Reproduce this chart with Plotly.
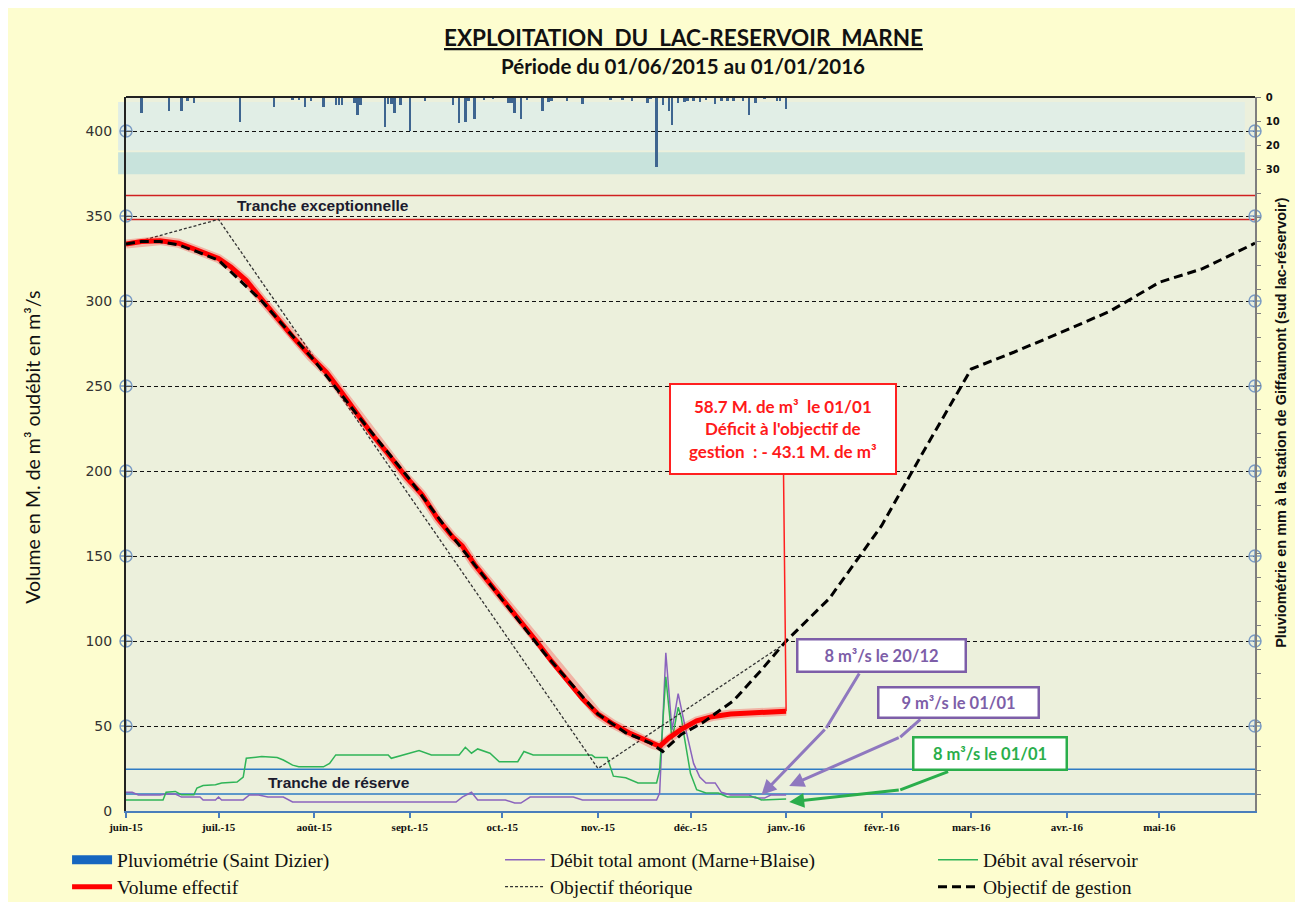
import plotly.graph_objects as go

# ---------------- data ----------------
month_ticks = ["2015-06-01", "2015-07-01", "2015-08-01", "2015-09-01", "2015-10-01", "2015-11-01",
               "2015-12-01", "2016-01-01", "2016-02-01", "2016-03-01", "2016-04-01", "2016-05-01"]
month_labels = ["juin-15", "juil.-15", "août-15", "sept.-15", "oct.-15", "nov.-15",
                "déc.-15", "janv.-16", "févr.-16", "mars-16", "avr.-16", "mai-16"]

rain_dates = ["2015-06-06", "2015-06-15", "2015-06-19", "2015-06-21", "2015-06-23", "2015-07-08",
              "2015-07-19", "2015-07-25", "2015-07-27", "2015-07-29", "2015-07-31", "2015-08-04",
              "2015-08-08", "2015-08-09", "2015-08-10", "2015-08-14", "2015-08-15", "2015-08-16",
              "2015-08-24", "2015-08-25", "2015-08-26", "2015-08-27", "2015-08-29", "2015-09-01",
              "2015-09-06", "2015-09-15", "2015-09-17", "2015-09-19", "2015-09-20", "2015-09-22",
              "2015-09-25", "2015-09-28", "2015-10-03", "2015-10-04", "2015-10-05", "2015-10-07",
              "2015-10-09", "2015-10-14", "2015-10-16", "2015-10-17", "2015-10-22", "2015-10-27",
              "2015-11-05", "2015-11-09", "2015-11-12", "2015-11-17", "2015-11-18", "2015-11-20",
              "2015-11-22", "2015-11-24", "2015-11-25", "2015-11-27", "2015-11-29", "2015-11-30",
              "2015-12-02", "2015-12-04", "2015-12-06", "2015-12-09", "2015-12-11", "2015-12-13",
              "2015-12-15", "2015-12-18", "2015-12-20", "2015-12-22", "2015-12-25", "2015-12-29",
              "2015-12-30", "2016-01-01"]
rain_mm = [6.5, 6, 6, 1.5, 2.5, 10.5,
           4, 1.2, 1.2, 4, 1.5, 4,
           3.5, 3.5, 3.5, 2.5, 7.5, 3.5,
           12.5, 3, 3, 6.5, 3.5, 14,
           1.5, 3.5, 11, 10.5, 1.5, 9,
           1.3, 1, 2.5, 2.5, 6.5, 9,
           1.2, 6, 2, 1.8, 1.5, 3,
           1.2, 1.2, 1.8, 2.5, 1, 29,
           3.5, 6, 11.5, 2.5, 2, 1.5,
           1.5, 2, 1.2, 3, 1.5, 1.5,
           1.5, 1.5, 7.5, 2.5, 1, 1.5,
           1.5, 5]

amont_dates = ["2015-06-01", "2015-06-03", "2015-06-05", "2015-06-12", "2015-06-14", "2015-06-17",
               "2015-06-19", "2015-06-25", "2015-06-26", "2015-06-30", "2015-07-01", "2015-07-02",
               "2015-07-09", "2015-07-11", "2015-07-14", "2015-07-17", "2015-07-22", "2015-07-25",
               "2015-09-16", "2015-09-18", "2015-09-21", "2015-09-23", "2015-10-02", "2015-10-05",
               "2015-10-07", "2015-10-10", "2015-10-24", "2015-10-27", "2015-11-20", "2015-11-21",
               "2015-11-23", "2015-11-25", "2015-11-27", "2015-11-29", "2015-12-02", "2015-12-04",
               "2015-12-06", "2015-12-09", "2015-12-11", "2015-12-14", "2015-12-20", "2015-12-22",
               "2015-12-25", "2015-12-27", "2016-01-01"]
amont_val = [11, 11, 9.4, 9.4, 10, 10,
             8.2, 8.2, 6.5, 6.5, 8.2, 6.5,
             6.5, 9.4, 9.4, 8.2, 8.2, 5.3,
             5.3, 8.2, 11, 6.5, 6.5, 4.7,
             4.7, 8.2, 8.2, 6.5, 6.5, 10.6,
             93, 47.6, 69, 51.7, 28, 20,
             16.5, 16.5, 11, 9.4, 9.4, 7.6,
             7.6, 9.4, 9.4]

aval_dates = ["2015-06-01", "2015-06-13", "2015-06-14", "2015-06-17", "2015-06-19", "2015-06-23",
              "2015-06-24", "2015-06-26", "2015-06-30", "2015-07-02", "2015-07-07", "2015-07-09",
              "2015-07-10", "2015-07-15", "2015-07-20", "2015-07-22", "2015-07-25", "2015-07-27",
              "2015-08-04", "2015-08-06", "2015-08-08", "2015-08-25", "2015-08-26", "2015-08-30",
              "2015-09-04", "2015-09-08", "2015-09-17", "2015-09-19", "2015-09-21", "2015-09-23",
              "2015-09-27", "2015-09-30", "2015-10-06", "2015-10-08", "2015-10-11", "2015-10-30",
              "2015-10-31", "2015-11-04", "2015-11-06", "2015-11-10", "2015-11-14", "2015-11-20",
              "2015-11-21", "2015-11-23", "2015-11-25", "2015-11-27", "2015-11-28", "2015-11-29",
              "2015-12-01", "2015-12-03", "2015-12-06", "2015-12-10", "2015-12-13", "2015-12-22",
              "2015-12-24", "2016-01-01"]
aval_val = [6.5, 6.5, 11, 11.5, 9.5, 9.5,
            13.5, 15, 15.5, 16.5, 17, 20,
            31, 32, 31.5, 30, 27, 26,
            26, 28, 33, 33, 31, 33,
            35.5, 33, 33, 37.5, 34, 36.5,
            34, 29, 29, 35, 33, 33,
            31.5, 31.5, 20.5, 19.5, 16.5, 16.5,
            24, 79, 42, 61, 55, 43.5,
            22, 12.5, 10.6, 10.6, 8.2, 8.2,
            6.5, 7]

volume_dates = ["2015-06-01", "2015-06-06", "2015-06-12", "2015-06-18", "2015-06-24", "2015-07-01",
                "2015-07-05", "2015-07-10", "2015-07-15", "2015-07-20", "2015-07-25", "2015-07-31",
                "2015-08-05", "2015-08-10", "2015-08-15", "2015-08-20", "2015-08-25", "2015-08-31",
                "2015-09-05", "2015-09-10", "2015-09-15", "2015-09-18", "2015-09-22", "2015-09-27",
                "2015-10-02", "2015-10-07", "2015-10-12", "2015-10-17", "2015-10-22", "2015-10-27",
                "2015-11-01", "2015-11-06", "2015-11-11", "2015-11-16", "2015-11-19", "2015-11-21",
                "2015-11-24", "2015-11-28", "2015-12-03", "2015-12-08", "2015-12-14", "2015-12-20",
                "2015-12-27", "2016-01-01"]
volume_val = [333.5, 335, 335.5, 334, 330, 325,
              320, 312, 301, 290, 279, 267,
              258, 246, 233, 221, 210, 196,
              186, 172, 161, 156, 145, 134,
              122, 112, 100, 88, 77, 66,
              57, 51, 46, 42, 39, 38,
              43, 48, 53, 55.5, 57, 57.5,
              58, 58.7]

theorique_dates = ["2015-06-01", "2015-07-01", "2015-11-01", "2016-01-01"]
theorique_val = [333, 348, 25, 99]

gestion_dates = ["2015-06-01", "2015-06-06", "2015-06-12", "2015-06-18", "2015-06-24", "2015-07-01",
                 "2015-07-15", "2015-08-01", "2015-08-15", "2015-09-01", "2015-09-15", "2015-10-01",
                 "2015-10-15", "2015-11-01", "2015-11-10", "2015-11-18", "2015-11-22", "2015-11-28",
                 "2015-12-05", "2015-12-15", "2015-12-24", "2016-01-01", "2016-01-15", "2016-02-01",
                 "2016-02-15", "2016-03-01", "2016-03-15", "2016-04-01", "2016-04-15", "2016-05-01",
                 "2016-05-15", "2016-06-01"]
gestion_val = [333.5, 335, 335, 333, 329, 324,
               300, 265, 233, 195, 161, 124,
               92, 57, 46, 40, 35, 45,
               52, 65, 83, 100, 125, 168,
               213, 260, 270, 283, 294, 311,
               319, 334]

grid_levels = [50, 100, 150, 200, 250, 300, 350, 400]
tranche_exceptionnelle = [348, 362]
tranche_reserve = [10, 24.5]

# ---------------- figure ----------------
X0, X1 = "2015-06-01", "2016-06-01"
fig = go.Figure()

fig.add_trace(go.Bar(x=rain_dates, y=rain_mm, yaxis="y2", width=0.8 * 86400000,
                     marker=dict(color="#3e6590", line=dict(width=0)),
                     name="Pluviométrie (Saint Dizier)", showlegend=False))
# legend entry for the rainfall bars (wide blue key as in the original)
fig.add_trace(go.Scatter(x=[None], y=[None], mode="lines", line=dict(color="#1666bf", width=9),
                         name="Pluviométrie (Saint Dizier)", legend="legend", hoverinfo="skip"))
fig.add_trace(go.Scatter(x=amont_dates, y=amont_val, mode="lines", line=dict(color="#8a63bd", width=1.5),
                         name="Débit total amont (Marne+Blaise)", legend="legend2"))
fig.add_trace(go.Scatter(x=aval_dates, y=aval_val, mode="lines", line=dict(color="#2fb457", width=1.5),
                         name="Débit aval réservoir", legend="legend3"))
fig.add_trace(go.Scatter(x=theorique_dates, y=theorique_val, mode="lines",
                         line=dict(color="#333333", width=1.3, dash="3px,2px"),
                         name="Objectif théorique", legend="legend5"))
fig.add_trace(go.Scatter(x=volume_dates, y=volume_val, mode="lines", line=dict(color="rgba(255,0,0,0.25)", width=9),
                         showlegend=False, hoverinfo="skip"))
fig.add_trace(go.Scatter(x=volume_dates, y=volume_val, mode="lines", line=dict(color="#ff0000", width=5),
                         name="Volume effectif", legend="legend4"))
fig.add_trace(go.Scatter(x=gestion_dates, y=gestion_val, mode="lines",
                         line=dict(color="#000000", width=3, dash="9px,5px"),
                         name="Objectif de gestion", legend="legend6"))
fig.add_trace(go.Scatter(x=[X0] * len(grid_levels) + [X1] * len(grid_levels), y=grid_levels + grid_levels,
                         mode="markers", cliponaxis=False, showlegend=False, hoverinfo="skip",
                         marker=dict(symbol="circle-cross-open", size=12, color="#7b9cc4", line=dict(width=1.5))))

shapes = []
shapes.append(dict(type="rect", xref="paper", yref="y", x0=-0.007, x1=0.991, y0=388.5, y1=417,
                   fillcolor="#e1eee6", line=dict(width=0), layer="below"))
shapes.append(dict(type="rect", xref="paper", yref="y", x0=-0.007, x1=0.991, y0=374.5, y1=387.5,
                   fillcolor="#c8e3dc", line=dict(width=0), layer="below"))
for v in tranche_exceptionnelle:
    shapes.append(dict(type="line", xref="paper", yref="y", x0=0, x1=1, y0=v, y1=v,
                       line=dict(color="#d02020", width=1.5), layer="below"))
for v in tranche_reserve:
    shapes.append(dict(type="line", xref="paper", yref="y", x0=0, x1=1, y0=v, y1=v,
                       line=dict(color="#2e7bc4", width=1.5), layer="below"))
shapes.append(dict(type="line", xref="paper", yref="paper", x0=0, x1=1, y0=1, y1=1,
                   line=dict(color="#222222", width=2)))

annotations = []
annotations.append(dict(xref="paper", yref="paper", x=0.4934, y=1.084, xanchor="center", yanchor="middle",
                        showarrow=False, text="<u>EXPLOITATION  DU  LAC-RESERVOIR  MARNE</u>",
                        font=dict(family="Lato", size=22.5, color="#111111", weight="bold")))
annotations.append(dict(xref="paper", yref="paper", x=0.4934, y=1.0434, xanchor="center", yanchor="middle",
                        showarrow=False, text="Période du 01/06/2015 au 01/01/2016",
                        font=dict(family="Lato", size=20.5, color="#111111", weight="bold")))
annotations.append(dict(xref="paper", yref="paper", x=-0.0824, y=0.51, xanchor="center", yanchor="middle",
                        showarrow=False, textangle=-90, text="Volume en M. de m³ oudébit en m³/s",
                        font=dict(family="Lato", size=19.5, color="#111111")))
annotations.append(dict(xref="paper", yref="paper", x=1.023, y=0.545, xanchor="center", yanchor="middle",
                        showarrow=False, textangle=-90,
                        text="Pluviométrie en mm à la station de Giffaumont (sud lac-réservoir)",
                        font=dict(family="Liberation Sans", size=14.5, color="#111111", weight="bold")))
tr_font = dict(family="Liberation Sans", size=15.5, color="#1b1b2e", weight="bold")
annotations.append(dict(xref="x", yref="y", x="2015-08-04", y=356, showarrow=False,
                        text="Tranche exceptionnelle", font=tr_font))
annotations.append(dict(xref="x", yref="y", x="2015-08-09", y=16.5, showarrow=False,
                        text="Tranche de réserve", font=tr_font))

# red callout
annotations.append(dict(xref="x", yref="y", x="2016-01-01", y=58.7, axref="x", ayref="y",
                        ax="2015-12-31", ay=224.7, showarrow=True, arrowhead=0, arrowwidth=1.5,
                        arrowcolor="#ff2020",
                        text="58.7 M. de m³  le 01/01<br>Déficit à l'objectif de<br>gestion  : - 43.1 M. de m³",
                        font=dict(family="Lato", size=17, color="#ff1a1a", weight="bold"),
                        bgcolor="white", bordercolor="#ff2020", borderwidth=2, width=222, height=86,
                        align="center"))

callouts = [
    dict(text="8 m³/s le 20/12", color="#7d5ea8", arrow="#8f78bf", box=("2016-02-01", 91.2), w=164, h=28,
         path=[("2016-01-25", 81.8), ("2016-01-14", 48.8), ("2015-12-24", 9.4)]),
    dict(text="9 m³/s le 01/01", color="#7d5ea8", arrow="#8f78bf", box=("2016-02-26", 64.1), w=156, h=26,
         path=[("2016-02-14", 54.7), ("2016-02-07", 43.5), ("2016-01-02", 14.7)]),
    dict(text="8 m³/s le 01/01", color="#2aae4b", arrow="#2aae4b", box=("2016-03-07", 34.1), w=149, h=28,
         path=[("2016-02-23", 23.5), ("2016-02-07", 12.4), ("2016-01-02", 5.3)]),
]
for c in callouts:
    p = c["path"]
    for i in range(len(p) - 1):
        last = i == len(p) - 2
        annotations.append(dict(xref="x", yref="y", axref="x", ayref="y", x=p[i + 1][0], y=p[i + 1][1],
                                ax=p[i][0], ay=p[i][1], text="", showarrow=True,
                                arrowhead=2 if last else 0, arrowsize=1, arrowwidth=3,
                                arrowcolor=c["arrow"], standoff=0, startstandoff=0))
    annotations.append(dict(xref="x", yref="y", x=c["box"][0], y=c["box"][1], showarrow=False, text=c["text"],
                            font=dict(family="Lato", size=16.5, color=c["color"], weight="bold"),
                            bgcolor="white", bordercolor=c["color"], borderwidth=2.5,
                            width=c["w"], height=c["h"]))


def legend_at(x, y):
    return dict(x=x, y=y, xanchor="left", yanchor="middle", bgcolor="rgba(0,0,0,0)",
                font=dict(family="Liberation Serif", size=19.5, color="#111111"), itemwidth=40)


col_x = [-0.0522, 0.3313, 0.7148]
row_y = [-0.0686, -0.1064]

fig.update_layout(
    width=1303, height=902,
    margin=dict(l=118, r=56, t=89, b=99, autoexpand=False),
    paper_bgcolor="#fdfdcf",
    plot_bgcolor="#ecf0dc",
    showlegend=True,
    legend=legend_at(col_x[0], row_y[0]),
    legend2=legend_at(col_x[1], row_y[0]),
    legend3=legend_at(col_x[2], row_y[0]),
    legend4=legend_at(col_x[0], row_y[1]),
    legend5=legend_at(col_x[1], row_y[1]),
    legend6=legend_at(col_x[2], row_y[1]),
    bargap=0,
    xaxis=dict(type="date", range=[X0, X1], tickvals=month_ticks, ticktext=month_labels,
               tickfont=dict(family="Liberation Serif", size=11, color="#111111", weight="bold"),
               showline=True, linecolor="#4a7ebb", linewidth=2, ticks="outside", ticklen=5,
               tickcolor="#4a7ebb", tickwidth=1.5, showgrid=False, zeroline=False),
    yaxis=dict(range=[0, 420], tickvals=[0] + grid_levels, showgrid=True, gridcolor="#111111",
               griddash="4px,3px", gridwidth=1.2, showline=True, linecolor="#222222", linewidth=2,
               ticks="inside", ticklen=6, tickcolor="#555555", zeroline=False, ticklabelstandoff=9,
               tickfont=dict(family="DejaVu Sans", size=14, color="#333333")),
    yaxis2=dict(overlaying="y", side="right", range=[297, 0], tickvals=list(range(0, 300, 10)),
                ticktext=["0", "10", "20", "30"] + [""] * 26, ticks="outside", ticklen=4,
                tickcolor="#7f7f7f", showline=True, linecolor="#7f7f7f", linewidth=1.5,
                showgrid=False, zeroline=False, ticklabelstandoff=3,
                tickfont=dict(family="DejaVu Sans", size=10, color="#111111", weight="bold")),
    shapes=shapes,
    annotations=annotations,
)

fig.write_html("out.html")
